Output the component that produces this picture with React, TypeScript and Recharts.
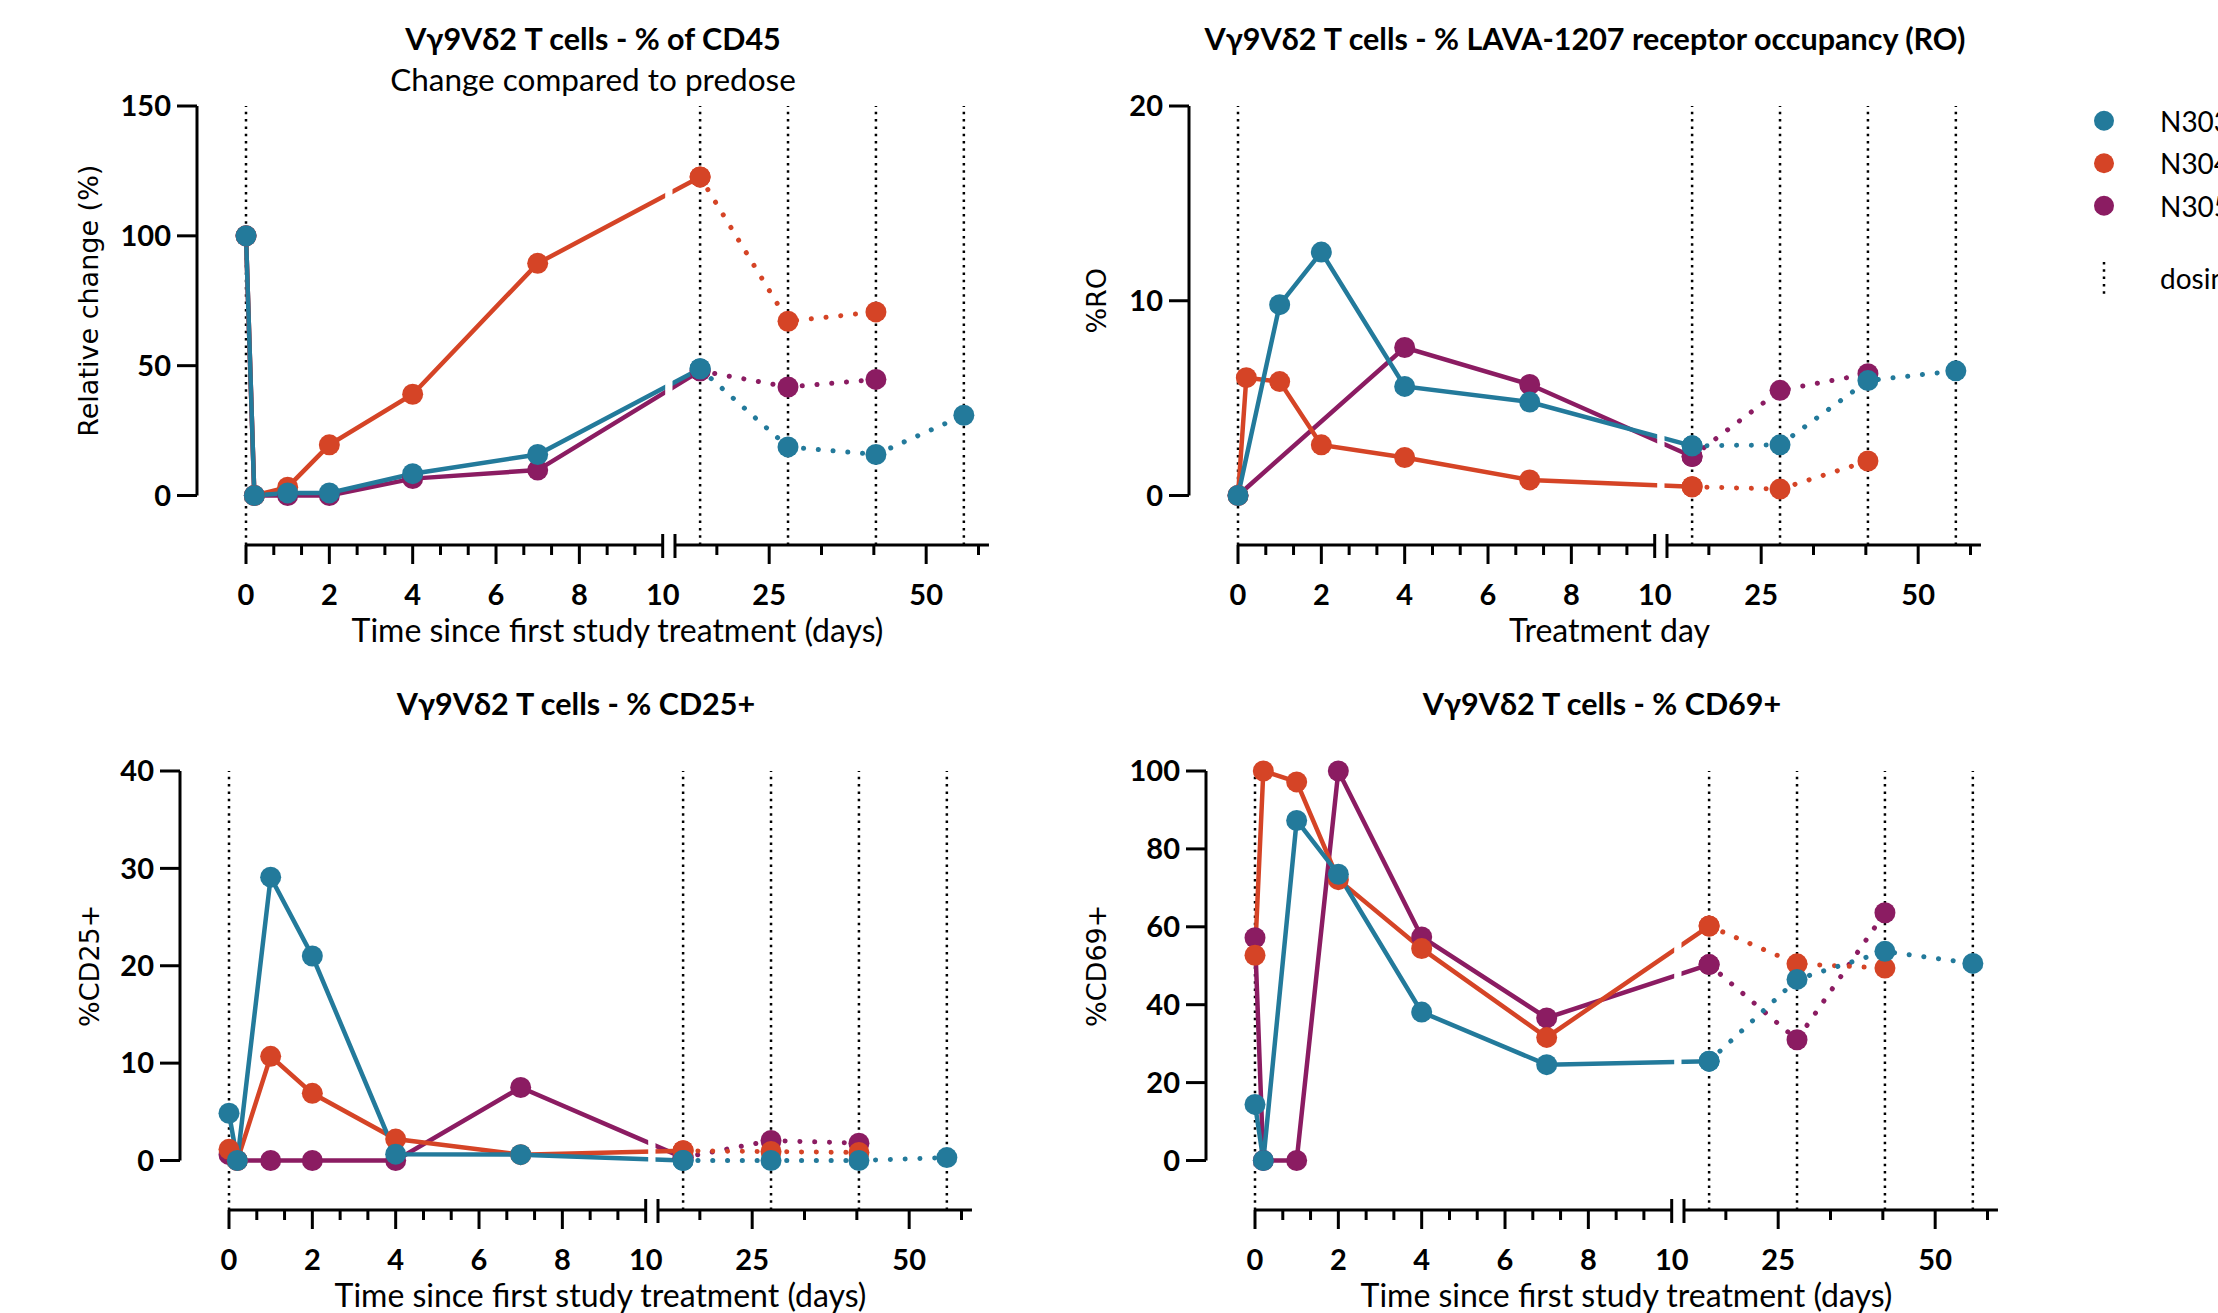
import React from 'react';
import { LineChart, Line, XAxis, YAxis, ReferenceLine, ReferenceArea } from 'recharts';

// sampling days (0.2 = a few hours after the first dose)
const DAYS = [0, 0.2, 1, 2, 4, 7, 14, 28, 42, 56];
const DOSING_DAYS = [0, 14, 28, 42, 56];
const SUBJECTS = ['N303', 'N304', 'N305'];

// Vγ9Vδ2 % of CD45, relative change vs predose
const CD45_N303 = [100, 0, 1, 1, 8.4, 15.8, 48.8, 18.7, 15.8, 30.9];
const CD45_N304 = [100, 0, 3.2, 19.5, 39, 89.4, 122.7, 67.1, 70.7, null];
const CD45_N305 = [100, 0, 0, 0, 6.5, 9.8, 48, 41.8, 44.7, null];

// receptor occupancy
const RO_N303 = [0, null, 9.8, 12.5, 5.6, 4.8, 2.55, 2.6, 5.9, 6.4];
const RO_N304 = [0, 6.05, 5.85, 2.6, 1.95, 0.8, 0.45, 0.33, 1.77, null];
const RO_N305 = [0, null, null, null, 7.6, 5.7, 2.0, 5.4, 6.25, null];

// % CD25+
const CD25_N303 = [4.85, 0, 29.1, 21.0, 0.65, 0.6, 0, 0, 0, 0.3];
const CD25_N304 = [1.15, 0, 10.7, 6.9, 2.2, 0.6, 1.0, 0.92, 0.82, null];
const CD25_N305 = [0.6, 0, 0, 0, 0, 7.5, 0.3, 2.05, 1.78, null];

// % CD69+
const CD69_N303 = [14.4, 0, 87.3, 73.5, 38.1, 24.6, 25.5, 46.5, 53.7, 50.6];
const CD69_N304 = [52.7, 100, 97.2, 72.1, 54.4, 31.6, 60.2, 50.5, 49.4, null];
const CD69_N305 = [57.2, 0, 0, 100, 57.4, 36.6, 50.3, 31.0, 63.6, null];

const X_MAJOR = [0, 2, 4, 6, 8, 10, 25, 50];
const X_MINOR = [0.667, 1.333, 2.667, 3.333, 4.667, 5.333, 6.667, 7.333, 8.667, 9.333, 16.667, 33.333, 41.667, 58.333];

const COLORS = { N303: '#237a9b', N304: '#d54426', N305: '#8b1c62' };
const DRAW_ORDER = ['N305', 'N304', 'N303'];

// broken x axis: 0-10 linear, then compressed 10-60
const BREAK = 10;
const GAP = 0.295;
const SQUEEZE = 0.1507;
const X_END = 60;
const X_START = -1.176;
const toAxis = (d: number) => (d <= BREAK ? d : BREAK + GAP + (d - BREAK) * SQUEEZE);
const X_MAX = toAxis(X_END);

const TICKS = [
  ...X_MINOR.map((d) => ({ pos: toAxis(d), kind: 'minor', label: '' })),
  ...X_MAJOR.map((d) => ({ pos: toAxis(d), kind: d === BREAK ? 'break' : 'major', label: String(d) })),
  { pos: BREAK + GAP, kind: 'break', label: '' },
];

const PX_PER_DAY = 41.67;
const PLOT_W = (X_MAX - X_START) * PX_PER_DAY;
const DATA_H = 389.5;
const BELOW_H = 49.5;
const PLOT_H = DATA_H + BELOW_H;
const M_LEFT = 40;
const Y_W = 90;
const M_TOP = 105;
const M_RIGHT = 10;
const X_H = 110;
const W = M_LEFT + Y_W + PLOT_W + M_RIGHT;
const H = M_TOP + PLOT_H + X_H;
const PL = M_LEFT + Y_W;

const XTick = (props: any) => {
  const { x, y, payload } = props;
  const t = TICKS.find((k) => Math.abs(k.pos - payload.value) < 1e-6);
  if (!t) return <g />;
  return (
    <g>
      {t.kind === 'minor' && <line x1={x} x2={x} y1={y} y2={y + 10} stroke="#000" strokeWidth={3} />}
      {t.kind === 'major' && <line x1={x} x2={x} y1={y} y2={y + 19} stroke="#000" strokeWidth={3} />}
      {t.kind === 'break' && <line x1={x} x2={x} y1={y - 11} y2={y + 13} stroke="#000" strokeWidth={3} />}
      {t.label && (
        <text x={x} y={y + 60} textAnchor="middle" fontFamily="Lato" fontWeight={700} fontSize={29} fill="#000">
          {t.label}
        </text>
      )}
    </g>
  );
};

const dotFor = (name: string, color: string) => (p: any) => (
  <circle key={`${name}-${p.index}`} cx={p.cx} cy={p.cy} r={10.5} fill={color} />
);

function Panel({ left, top, title, subtitle, xTitle, yTitle, yTitleGap, yMax, yTicks, values }: any) {
  const yMin = (-yMax * BELOW_H) / DATA_H;
  const axisStyle = { stroke: '#000', strokeWidth: 3, ifOverflow: 'visible' as const };
  const x0 = PL + (0 - X_START) * PX_PER_DAY;
  const xEndPx = PL + PLOT_W;

  const lines = DRAW_ORDER.flatMap((name) => {
    const vals = values[name];
    const color = (COLORS as any)[name];
    const pts = DAYS.map((d, i) => ({ x: toAxis(d), y: vals[i], day: d })).filter((p) => p.y != null);
    const solid = pts.filter((p) => p.day <= 14);
    const dotted = pts.filter((p) => p.day >= 14);
    return [
      <Line key={name + '-s'} data={solid} dataKey="y" stroke={color} strokeWidth={4.5}
        dot={dotFor(name + 's', color)} activeDot={false} isAnimationActive={false} />,
      <Line key={name + '-d'} data={dotted} dataKey="y" stroke={color} strokeWidth={5}
        strokeDasharray="0.1 14.7" strokeLinecap="round"
        dot={dotFor(name + 'd', color)} activeDot={false} isAnimationActive={false} />,
    ];
  });

  return (
    <div style={{ position: 'absolute', left, top, width: W, height: H }}>
      <LineChart width={W} height={H} margin={{ top: M_TOP, right: M_RIGHT, bottom: 0, left: M_LEFT }}>
        <XAxis type="number" dataKey="x" domain={[X_START, X_MAX]} ticks={TICKS.map((t) => t.pos)}
          interval={0} tick={(p: any) => <XTick {...p} />} tickLine={false} axisLine={false}
          tickSize={0} tickMargin={0} height={X_H} />
        <YAxis type="number" domain={[yMin, yMax]} ticks={yTicks} width={Y_W} tickSize={20} tickMargin={6}
          axisLine={false} tickLine={{ stroke: '#000', strokeWidth: 3 }}
          tick={{ fill: '#000', fontSize: 29, fontWeight: 700, fontFamily: 'Lato' }} />
        {DOSING_DAYS.map((d) => (
          <ReferenceLine key={'dose' + d} x={toAxis(d)} stroke="#000" strokeWidth={2.5}
            strokeDasharray="2.5 4.8" ifOverflow="visible" />
        ))}
        <ReferenceLine segment={[{ x: X_START, y: 0 }, { x: X_START, y: yMax }]} {...axisStyle} />
        <ReferenceLine segment={[{ x: 0, y: yMin }, { x: BREAK, y: yMin }]} {...axisStyle} />
        <ReferenceLine segment={[{ x: BREAK + GAP, y: yMin }, { x: X_MAX, y: yMin }]} {...axisStyle} />
        {lines}
        {/* white cut through the lines at the axis break */}
        <ReferenceArea x1={BREAK + 0.06} x2={BREAK + GAP - 0.06} y1={yMin} y2={yMax}
          fill="#fff" fillOpacity={1} stroke="none" ifOverflow="visible" zIndex={450} />
      </LineChart>
      <svg width={W} height={H} style={{ position: 'absolute', left: 0, top: 0, pointerEvents: 'none' }}>
        <text x={PL + PLOT_W / 2} y={M_TOP - 56.5} textAnchor="middle" fontFamily="Lato" fontWeight={700} fontSize={30.5}>
          {title}
        </text>
        {subtitle && (
          <text x={PL + PLOT_W / 2} y={M_TOP - 14.7} textAnchor="middle" fontFamily="Lato" fontSize={31.5}>
            {subtitle}
          </text>
        )}
        <text x={(x0 + xEndPx) / 2} y={M_TOP + PLOT_H + 97} textAnchor="middle" fontFamily="Lato" fontSize={32}>
          {xTitle}
        </text>
        <text x={PL - yTitleGap} y={M_TOP + DATA_H / 2} textAnchor="middle" dominantBaseline="central"
          fontFamily="DejaVu Sans" fontSize={27}
          transform={`rotate(-90 ${PL - yTitleGap} ${M_TOP + DATA_H / 2})`}>
          {yTitle}
        </text>
      </svg>
    </div>
  );
}

export default function App() {
  const xDays = 'Time since first study treatment (days)';
  return (
    <div style={{ position: 'absolute', left: 0, top: 0, width: 2218, height: 1313, overflow: 'hidden', background: '#fff' }}>
      <Panel left={66.7} top={0.7} title="Vγ9Vδ2 T cells - % of CD45" subtitle="Change compared to predose"
        xTitle={xDays} yTitle="Relative change (%)" yTitleGap={109} yMax={150} yTicks={[0, 50, 100, 150]}
        values={{ N303: CD45_N303, N304: CD45_N304, N305: CD45_N305 }} />
      <Panel left={1059} top={0.7} title="Vγ9Vδ2 T cells - % LAVA-1207 receptor occupancy (RO)"
        xTitle="Treatment day" yTitle="%RO" yTitleGap={92.5} yMax={20} yTicks={[0, 10, 20]}
        values={{ N303: RO_N303, N304: RO_N304, N305: RO_N305 }} />
      <Panel left={50} top={665.7} title="Vγ9Vδ2 T cells - % CD25+"
        xTitle={xDays} yTitle="%CD25+" yTitleGap={91} yMax={40} yTicks={[0, 10, 20, 30, 40]}
        values={{ N303: CD25_N303, N304: CD25_N304, N305: CD25_N305 }} />
      <Panel left={1076} top={665.7} title="Vγ9Vδ2 T cells - % CD69+"
        xTitle={xDays} yTitle="%CD69+" yTitleGap={109.5} yMax={100} yTicks={[0, 20, 40, 60, 80, 100]}
        values={{ N303: CD69_N303, N304: CD69_N304, N305: CD69_N305 }} />
      <svg width={2218} height={1313} style={{ position: 'absolute', left: 0, top: 0, pointerEvents: 'none' }}>
        {SUBJECTS.map((s, i) => (
          <g key={s}>
            <circle cx={2104} cy={120.7 + i * 42.5} r={10} fill={(COLORS as any)[s]} />
            <text x={2160} y={120.7 + i * 42.5} dominantBaseline="central" fontFamily="Lato" fontSize={28}>{s}</text>
          </g>
        ))}
        <line x1={2104} x2={2104} y1={262} y2={294} stroke="#000" strokeWidth={2.5} strokeDasharray="2.5 4.8" />
        <text x={2160} y={289} fontFamily="Lato" fontSize={28}>dosing</text>
      </svg>
    </div>
  );
}
